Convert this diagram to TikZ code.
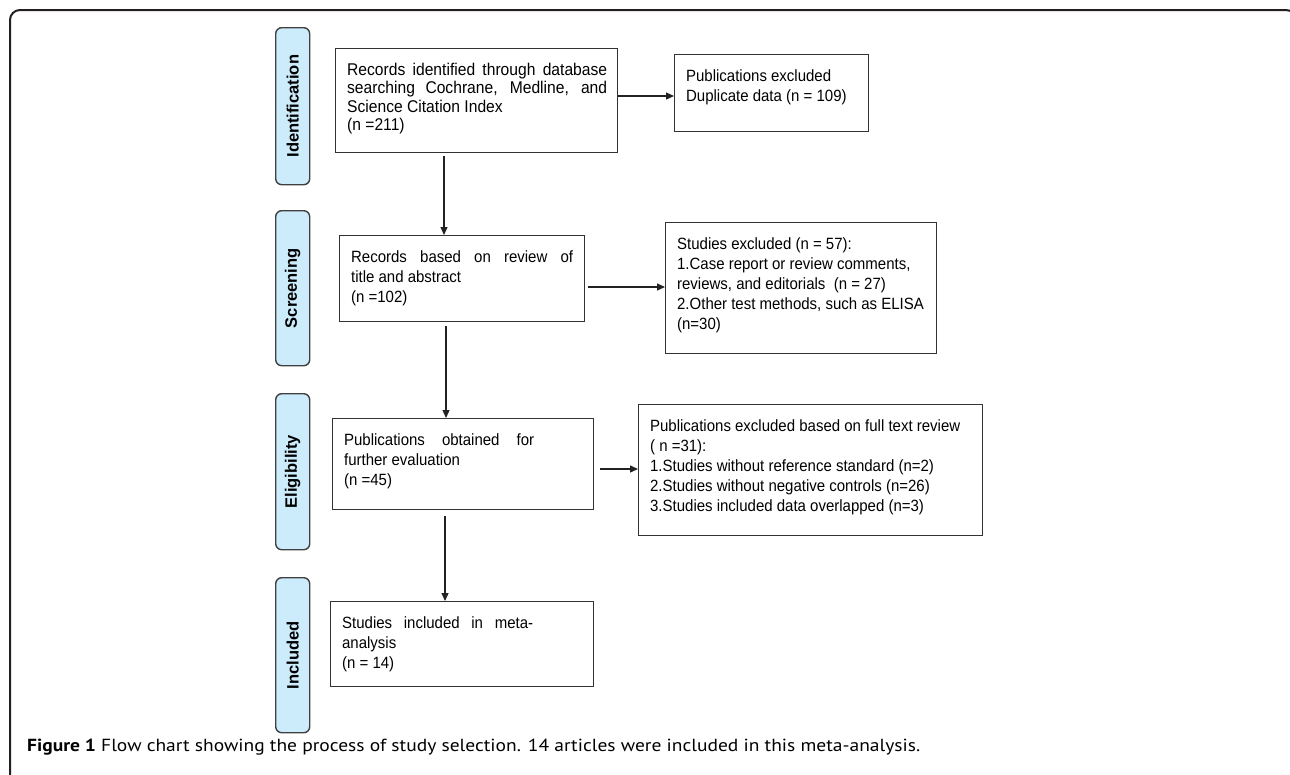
\documentclass[tikz,border=0pt]{standalone}
\usepackage{fontspec}
\usepackage{graphicx}
\setmainfont{Liberation Sans}
\newfontfamily\boxfont{Liberation Sans}[FakeStretch=0.92]
\newfontfamily\capfont{PT Sans}
\usetikzlibrary{arrows.meta,calc}
\definecolor{framec}{HTML}{231F20}
\definecolor{boxc}{HTML}{333333}
\definecolor{stagec}{HTML}{404040}
\definecolor{stagefill}{HTML}{CCEBFB}
\definecolor{arrc}{HTML}{222222}
\newcommand{\boxtxt}[4]{\parbox[c][#2][t]{#1}{\raggedright\setlength{\leftskip}{11.5pt}\vspace*{#3}\strut #4}}
\newcommand{\stagetxt}[1]{\rotatebox{90}{\fontsize{16.5}{18}\selectfont\bfseries #1}}
\begin{document}
\begin{tikzpicture}[x=1pt,y=-1pt,
  box/.style={draw=boxc, line width=1.3pt, inner sep=0pt, anchor=north west, font=\boxfont\fontsize{16.3}{20}\selectfont},
  stagebox/.style={draw=stagec, fill=stagefill, rounded corners=6pt, line width=1.4pt, inner sep=0pt, anchor=north west, minimum width=34pt},
  arr/.style={draw=arrc, line width=1.2pt, -{Triangle[length=8pt,width=7pt]}},
  frame/.style={draw=framec, line width=2pt, rounded corners=10pt}]
\useasboundingbox (0,0) rectangle (1290,774);
% frame
\draw[frame] (10,790) -- (10,10) -- (1296,10) -- (1296,80);
% stage labels
\node[stagebox, minimum height=157pt] (s1) at (275,27) {\stagetxt{Identification}};
\node[stagebox, minimum height=155pt] (s2) at (275,210) {\stagetxt{Screening}};
\node[stagebox, minimum height=156pt] (s3) at (275,393) {\stagetxt{Eligibility}};
\node[stagebox, minimum height=155pt] (s4) at (275,577) {\stagetxt{Included}};
% boxes
\node[box, font=\boxfont\fontsize{17}{18.3}\selectfont] (b1) at (335,48) {\boxtxt{282pt}{104pt}{14pt}{\makebox[260pt][s]{Records identified through database}\\\makebox[260pt][s]{searching Cochrane, Medline, and}\\Science Citation Index\\(n =211)}};
\node[box] (e1) at (674,54) {\boxtxt{194pt}{77pt}{12.5pt}{Publications excluded\\Duplicate data (n = 109)}};
\node[box] (b2) at (339,235) {\boxtxt{245pt}{86pt}{12.5pt}{\makebox[222pt][s]{Records based on review of}\\title and abstract\\(n =102)}};
\node[box] (e2) at (665,222) {\boxtxt{271pt}{131pt}{12.5pt}{Studies excluded (n = 57):\\1.Case report or review comments,\\reviews, and editorials~ (n = 27)\\2.Other test methods, such as ELISA\\(n=30)}};
\node[box] (b3) at (332,418) {\boxtxt{261pt}{91pt}{12.5pt}{\makebox[190pt][s]{Publications obtained for}\\further evaluation\\(n =45)}};
\node[box] (e3) at (638,404) {\boxtxt{344pt}{131pt}{12.5pt}{Publications excluded based on full text review\\( n =31):\\1.Studies without reference standard (n=2)\\2.Studies without negative controls (n=26)\\3.Studies included data overlapped (n=3)}};
\node[box] (b4) at (330,601) {\boxtxt{263pt}{85pt}{12.5pt}{\makebox[191pt][s]{Studies included in meta-}\\analysis\\(n = 14)}};
% arrows
\draw[arr] (b1.east |- 0,96) -- (e1.west |- 0,96);
\draw[arr, shorten <=3pt] (b1.south -| 444,0) -- (b2.north -| 444,0);
\draw[arr, shorten <=3pt] (b2.east |- 0,287) -- (e2.west |- 0,287);
\draw[arr, shorten <=4pt] (b2.south -| 446,0) -- (b3.north -| 446,0);
\draw[arr, shorten <=6pt] (b3.east |- 0,469) -- (e3.west |- 0,469);
\draw[arr, shorten <=6pt] (b3.south -| 445,0) -- (b4.north -| 445,0);
% caption
\node[anchor=base west, inner sep=0pt] (cap) at (27,751) {\resizebox{893pt}{\height}{\capfont\fontsize{17.5}{20}\selectfont\textbf{Figure 1} Flow chart showing the process of study selection. 14 articles were included in this meta-analysis.}};
\end{tikzpicture}
\end{document}
